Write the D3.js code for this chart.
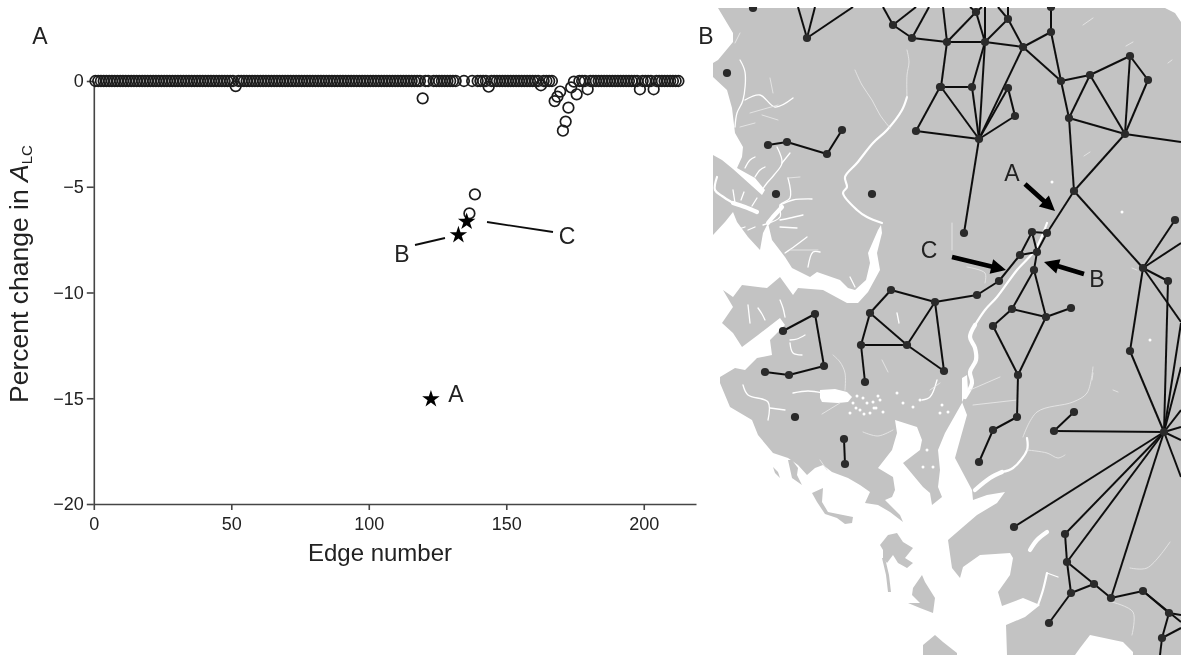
<!DOCTYPE html>
<html><head><meta charset="utf-8">
<style>html,body{margin:0;padding:0;background:#fff}svg{display:block}text{font-family:"Liberation Sans",Arial,sans-serif;fill:#222}</style>
<script src="https://cdn.jsdelivr.net/npm/d3@7/dist/d3.min.js"></script>
</head><body><svg id="c" width="1181" height="655"></svg>
<script>
// ---------- Panel A data ----------
const xTicks = [0, 50, 100, 150, 200];
const yTicks = [0, -5, -10, -15, -20];
const openEdges = [
  1,2,3,4,5,6,7,8,9,10,11,12,13,14,15,16,17,18,19,20,21,22,23,24,25,26,27,28,29,30,
  31,32,33,34,35,36,37,38,39,40,41,42,43,44,45,46,47,48,49,50,51,52,53,54,55,56,57,58,59,60,
  61,62,63,64,65,66,67,68,69,70,71,72,73,74,75,76,77,78,79,80,81,82,83,84,85,86,87,88,89,90,
  91,92,93,94,95,96,97,98,99,100,101,102,103,104,105,106,107,108,109,110,111,112,113,114,115,116,117,118,119,120,
  121,122,124,125,126,127,128,129,130,131,132,135,137,138,139,140,
  141,142,143,144,145,146,147,148,149,150,151,152,153,154,155,156,157,158,159,160,161,162,163,164,165,166,167,168,169,170,
  171,172,173,174,175,176,177,178,179,180,181,182,183,184,185,186,187,188,189,190,191,192,193,194,195,196,197,198,199,200,
  201,202,203,204,205,206,207,208,209,210,211,212,213];
const droppedEdges = [52,120,137,139,144,163,168,169,170,171,172,173,174,175,176,180,199,204];
const droppedValues = [-0.24,-0.82,-6.26,-5.36,-0.27,-0.2,-0.95,-0.74,-0.5,-2.35,-1.92,-1.26,-0.3,-0.03,-0.63,-0.39,-0.39,-0.39];
const starEdges = [123,133,136];
const starValues = [-15.04,-7.28,-6.65];

// ---------- Panel B map data (map grid units) ----------
const landOutline = [[718,8],[1165,8],[1175,13],[1181,22],[1181,655],[1133,655],[1133,652],[1123,642],[1090,635],[1080,648],[1075,655],[1007,655],[1006,625],[1025,617],[1040,605],[1023,598],[1002,606],[998,592],[1010,575],[1013,558],[1010,553],[980,555],[963,567],[960,578],[952,568],[948,540],[963,527],[977,515],[997,503],[1005,492],[987,495],[973,500],[972,490],[955,458],[960,440],[967,415],[962,402],[968,390],[967,375],[962,378],[962,403],[945,433],[938,450],[940,470],[938,487],[942,497],[932,505],[930,493],[923,487],[903,463],[920,450],[922,440],[917,427],[895,420],[897,433],[892,450],[878,468],[893,477],[895,490],[892,497],[885,500],[900,515],[903,522],[890,512],[878,505],[865,503],[870,492],[860,485],[848,478],[832,472],[823,465],[815,468],[807,475],[798,465],[788,458],[773,453],[758,435],[752,420],[730,407],[720,383],[720,377],[735,368],[745,370],[757,358],[772,355],[770,340],[785,325],[780,318],[758,335],[742,347],[733,333],[722,323],[733,307],[723,290],[733,297],[742,285],[767,288],[780,277],[793,295],[798,288],[823,290],[847,303],[858,303],[868,292],[880,270],[877,253],[882,233],[881,225],[878,230],[868,253],[870,263],[866,280],[855,290],[848,288],[840,280],[817,272],[810,277],[792,268],[785,257],[772,240],[768,223],[763,233],[760,250],[748,237],[737,222],[733,212],[725,222],[713,235],[713,155],[722,160],[733,169],[762,195],[765,190],[755,178],[737,168],[742,157],[743,147],[735,133],[732,108],[727,90],[713,77],[713,63],[718,60],[733,42],[733,33]];
const islands = [
  [[812,493],[823,488],[822,502],[828,512],[853,517],[852,523],[845,524],[837,518],[825,514],[817,502]],
  [[788,460],[792,478],[802,485],[797,475],[798,468],[792,460]],
  [[880,545],[888,535],[897,533],[903,542],[913,548],[905,558],[913,563],[907,568],[898,563],[893,555],[887,563],[883,558],[883,550]],
  [[913,588],[922,575],[925,582],[935,598],[933,613],[920,608],[908,603],[920,603],[912,595]],
  [[923,645],[935,635],[943,642],[957,653],[957,655],[923,655]],
  [[773,467],[778,472],[780,478],[775,473]],
  [[882,558],[885,558],[889,575],[891,592],[888,592],[886,575]]
];
const riversWide = [
  [[975,325],[970,337],[975,348],[976,360],[970,372],[972,383],[965,397]],
  [[1002,472],[990,478],[975,490]],
  [[733,203],[745,207],[757,212]],
  [[782,207],[772,218],[768,223]],
  [[1030,550],[1037,540],[1047,532]]
];
const riversMedium = [
  [[1047,223],[1035,250],[1017,270],[997,297],[985,310],[975,325]],
  [[1047,573],[1043,590],[1038,605]],
  [[1027,438],[1027,450],[1013,468],[1002,472]],
  [[882,223],[867,217],[857,210],[843,193],[847,187],[845,177],[857,163],[873,143],[887,130],[902,110],[907,97]],
  [[717,177],[715,190],[722,196],[733,203]]
];
const riversFine = [
  [[740,60],[745,72],[743,100],[737,113],[735,127]],
  [[745,100],[760,95],[775,107],[793,98]],
  [[777,147],[782,163],[774,175],[767,183],[762,190]],
  [[780,205],[793,200],[812,199]],
  [[788,178],[790,198],[780,205],[780,217],[763,225]],
  [[780,220],[790,218],[803,215]],[[780,227],[797,228]],
  [[785,253],[795,246],[807,237]],[[808,267],[813,252],[820,252]],
  [[850,277],[855,287]],[[733,190],[735,203]],
  [[745,168],[750,160],[755,157]],[[755,177],[760,170],[765,167]],[[782,163],[790,153]],
  [[743,385],[748,395],[768,402],[768,420]],[[770,408],[785,410]],
  [[793,393],[808,391],[823,393]],
  [[780,300],[783,308],[785,317]],[[758,308],[762,314],[765,320]],[[748,305],[749,314],[750,323]],
  [[790,340],[797,339],[805,335]],[[790,343],[793,353],[802,355]],
  [[937,380],[930,397],[922,400]],[[1047,573],[1058,577]],
  [[897,313],[899,323]],[[741,200],[744,192]],[[752,206],[757,198]],[[733,218],[738,228],[745,227]],[[748,230],[755,227]]
];
const riversThin = [
  [[907,50],[909,62],[907,75],[907,97]],
  [[735,43],[740,33]],[[770,78],[773,93]],[[750,113],[778,105]],[[762,115],[778,120]],
  [[740,127],[755,123]],[[788,178],[800,177]],
  [[833,355],[840,362],[845,373],[845,390]],[[882,360],[888,372]],
  [[790,250],[818,250]],
  [[855,70],[862,85],[872,100],[880,115],[890,128]],
  [[952,223],[952,250]],[[967,267],[985,273],[985,283]],
  [[930,390],[940,383]],[[973,405],[1017,400]],[[970,390],[1000,377]],
  [[1023,437],[1037,412],[1073,402],[1087,393],[1093,367]],
  [[1027,450],[1047,453],[1058,458],[1065,455]],
  [[1130,568],[1147,568],[1170,542]],[[1112,602],[1133,612],[1132,635]],
  [[863,432],[878,436],[893,430]],
  [[840,403],[822,414]],[[820,460],[827,470]],
  [[1093,18],[1083,25]],[[1133,42],[1126,46]],[[1172,60],[1168,63]],[[1090,152],[1084,156]],[[1132,268],[1137,270]],[[1093,373],[1092,380]],[[1113,390],[1118,392]]
];
const marshBlob = [[820,390],[835,389],[847,392],[852,397],[848,402],[838,403],[822,402],[820,398]];
const marshSpecks = [[853,403],[860,410],[867,403],[873,402],[880,400],[850,413],[870,413],[883,412],[863,398],[856,408],[864,414],[874,408],[878,396],[897,393],[903,403],[913,407],[920,400],[927,450],[923,467],[933,467],[857,396],[876,408],[942,405],[948,412],[940,413],[1122,212],[1150,340],[1052,182]];
const towns = [[753,8],[807,38],[893,25],[912,38],[727,73],[768,145],[787,142],[827,154],[842,130],[776,194],[872,194],[916,131],[940,87],[976,12],[1008,19],[1051,32],[1051,7],[947,42],[985,42],[1023,47],[1061,81],[1090,75],[1130,56],[1148,80],[1069,118],[1125,134],[1074,191],[941,87],[972,87],[1008,88],[1015,116],[979,139],[964,233],[1032,232],[1047,233],[1020,255],[1037,252],[1034,270],[999,281],[977,295],[935,302],[1012,309],[1046,317],[1071,308],[993,326],[1018,375],[1017,417],[993,430],[944,371],[1143,268],[1168,281],[1130,351],[1164,432],[1074,412],[1054,431],[1175,220],[979,462],[1014,527],[1065,534],[1067,562],[1071,593],[1094,584],[1111,598],[1143,591],[1049,623],[1169,613],[1162,638],[815,314],[783,331],[824,366],[789,375],[765,372],[795,417],[844,439],[845,464],[891,290],[870,313],[861,345],[907,345],[865,382]];
const links = [
  [807,38,798,7],[807,38,815,7],[807,38,853,7],[893,25,883,7],[893,25,916,7],[893,25,912,38],[912,38,929,7],[912,38,947,42],
  [768,145,787,142],[787,142,827,154],[827,154,842,130],[916,131,940,87],[916,131,979,139],
  [947,42,943,7],[947,42,976,12],[976,12,970,7],[976,12,982,7],[976,12,985,42],[985,42,985,7],[1008,19,998,7],[1008,19,1008,7],[1008,19,985,42],[1008,19,1023,47],
  [947,42,985,42],[985,42,1023,47],[1023,47,1051,32],[1051,32,1051,7],[1023,47,1061,81],[1051,32,1061,81],[1061,81,1090,75],[1090,75,1130,56],[1130,56,1148,80],[1130,56,1125,134],[1148,80,1125,134],[1090,75,1069,118],[1090,75,1125,134],[1061,81,1069,118],[1069,118,1125,134],[1069,118,1074,191],[1125,134,1074,191],[1125,134,1181,142],
  [1074,191,1047,233],[1074,191,1143,268],[947,42,941,87],[941,87,972,87],[972,87,985,42],[985,42,979,139],[941,87,979,139],[972,87,979,139],[1023,47,979,139],[1008,88,979,139],[1008,88,1015,116],[1015,116,979,139],[979,139,964,233],
  [1032,232,1047,233],[1032,232,1037,252],[1047,233,1037,252],[1032,232,1020,255],[1020,255,1037,252],[1037,252,1034,270],[1020,255,999,281],[999,281,977,295],[977,295,935,302],[1034,270,1012,309],[1034,270,1046,317],[1012,309,1046,317],[1046,317,1071,308],[1012,309,993,326],[993,326,1018,375],[1046,317,1018,375],[1018,375,1017,417],[1017,417,993,430],[993,430,979,462],[935,302,944,371],
  [1143,268,1168,281],[1143,268,1175,220],[1143,268,1181,243],[1143,268,1181,322],[1168,281,1164,432],[1143,268,1130,351],[1130,351,1164,432],[1054,431,1074,412],[1054,431,1164,432],
  [1164,432,1181,323],[1164,432,1181,367],[1164,432,1181,410],[1164,432,1181,427],[1164,432,1181,440],[1164,432,1181,477],
  [1164,432,1014,527],[1164,432,1065,534],[1164,432,1067,562],[1164,432,1111,598],
  [1065,534,1067,562],[1067,562,1071,593],[1067,562,1094,584],[1094,584,1111,598],[1071,593,1094,584],[1071,593,1049,623],[1111,598,1143,591],[1143,591,1169,613],[1143,591,1181,622],[1169,613,1162,638],[1162,638,1160,655],[1162,638,1181,628],[1169,613,1181,615],
  [783,331,815,314],[815,314,824,366],[824,366,789,375],[789,375,765,372],[844,439,845,464],[870,313,891,290],[891,290,935,302],[870,313,861,345],[870,313,907,345],[861,345,907,345],[907,345,935,302],[907,345,944,371],[861,345,865,382]
];
const mapArrows = [[1025,184,1055,211],[952,257,1006,270],[1084,274,1044,262]];
const mapLetters = [["A",1012,175],["C",929,252],["B",1097,281]];

// ---------- Panel A ----------
const svg = d3.select("#c");
const defs = svg.append("defs");
defs.append("filter").attr("id", "soft").attr("x", 0).attr("y", 0).attr("width", 1).attr("height", 1)
  .attr("filterUnits", "objectBoundingBox")
  .append("feGaussianBlur").attr("stdDeviation", 0.45);
defs.append("clipPath").attr("id", "mapClip").append("rect").attr("x", 700).attr("y", 7).attr("width", 481).attr("height", 648);
svg.append("rect").attr("width", 1181).attr("height", 655).attr("fill", "#fff");
const root = svg.append("g").attr("filter", "url(#soft)");
root.append("rect").attr("width", 1181).attr("height", 655).attr("fill", "#fff");

const minus = d => d < 0 ? "\u2212" + Math.abs(d) : String(d);
const x = d3.scaleLinear().domain([0, 219]).range([93.8, 696]);
const y = d3.scaleLinear().domain([0, -20]).range([81, 504]);
const ink = "#444";
const plot = root.append("g");
const gx = plot.append("g").attr("transform", `translate(0,${y(-20)})`)
  .call(d3.axisBottom(x).tickValues(xTicks).tickSize(6).tickFormat(minus).tickSizeOuter(0));
const gy = plot.append("g").attr("transform", `translate(${x(0)},0)`)
  .call(d3.axisLeft(y).tickValues(yTicks).tickSize(7).tickFormat(minus).tickSizeOuter(0));
[gx, gy].forEach(g => {
  g.selectAll("path,line").attr("stroke", ink).attr("stroke-width", 1.6);
  g.selectAll("text").attr("font-size", 18).attr("font-family", '"Liberation Sans",Arial,sans-serif').attr("fill", "#222");
});
gx.selectAll("text").attr("dy", "0.95em");
const xPos = e => x(e - 0.4);
const zeroEdges = openEdges.filter(e => !droppedEdges.includes(e));
const openPts = zeroEdges.map(e => [e, 0]).concat(droppedEdges.map((e, i) => [e, droppedValues[i]]));
plot.append("g").selectAll("circle").data(openPts).join("circle")
  .attr("cx", d => xPos(d[0])).attr("cy", d => y(d[1])).attr("r", 5.3)
  .attr("fill", "none").attr("stroke", "#1c1c1c").attr("stroke-width", 1.7);
const star = d3.symbol().type(d3.symbolStar).size(95);
plot.append("g").selectAll("path").data(starEdges).join("path")
  .attr("d", star).attr("fill", "#000")
  .attr("transform", (e, i) => `translate(${xPos(e)},${y(starValues[i])})`);

const notes = [["A", 123, -15.04, 456, 396], ["B", 133, -7.28, 402, 256], ["C", 136, -6.65, 567, 238]];
const noteG = plot.append("g");
noteG.selectAll("text").data(notes).join("text").text(d => d[0])
  .attr("x", d => d[3]).attr("y", d => d[4]).attr("text-anchor", "middle")
  .attr("dominant-baseline", "middle").attr("font-size", 23);
const leaders = [[415, 245, 445, 238], [487, 222, 553, 232]];
noteG.selectAll("line").data(leaders).join("line")
  .attr("x1", d => d[0]).attr("y1", d => d[1]).attr("x2", d => d[2]).attr("y2", d => d[3])
  .attr("stroke", "#111").attr("stroke-width", 1.8);

root.append("text").attr("x", 380).attr("y", 561).attr("text-anchor", "middle")
  .attr("font-size", 24).text("Edge number");
const yl = root.append("text").attr("transform", "translate(28,274) rotate(-90)")
  .attr("text-anchor", "middle").attr("font-size", 26.5);
yl.append("tspan").text("Percent change in ");
yl.append("tspan").attr("font-style", "italic").text("A");
yl.append("tspan").attr("font-size", 15).attr("dy", 4).text("LC");
root.append("text").attr("x", 40).attr("y", 44).attr("text-anchor", "middle").attr("font-size", 23).text("A");

// ---------- Panel B ----------
const mx = d3.scaleLinear().domain([700, 1181]).range([700, 1181]);
const my = d3.scaleLinear().domain([7, 655]).range([7, 655]);
const map = root.append("g").attr("clip-path", "url(#mapClip)");
const pline = d3.line().x(d => mx(d[0])).y(d => my(d[1]));
const pcurve = d3.line().x(d => mx(d[0])).y(d => my(d[1])).curve(d3.curveCatmullRom);
const land = "#c3c3c3";
map.append("path").attr("d", pline(landOutline) + "Z").attr("fill", land);
map.append("g").selectAll("path").data(islands).join("path").attr("d", d => pline(d) + "Z").attr("fill", land);
map.append("path").attr("d", pline(marshBlob) + "Z").attr("fill", "#fff");
[[riversWide, 4.2, "#fff"], [riversMedium, 2.2, "#fff"], [riversFine, 1.3, "#fff"], [riversThin, 0.9, "#e6e6e6"]].forEach(([set, w, c]) => {
  map.append("g").selectAll("path").data(set).join("path").attr("d", pcurve)
    .attr("fill", "none").attr("stroke", c).attr("stroke-width", w)
    .attr("stroke-linecap", "round").attr("stroke-linejoin", "round");
});
map.append("g").selectAll("circle").data(marshSpecks).join("circle")
  .attr("cx", d => mx(d[0])).attr("cy", d => my(d[1])).attr("r", 1.5).attr("fill", "#fff");
map.append("g").selectAll("line").data(links).join("line")
  .attr("x1", d => mx(d[0])).attr("y1", d => my(d[1])).attr("x2", d => mx(d[2])).attr("y2", d => my(d[3]))
  .attr("stroke", "#111").attr("stroke-width", 2);
map.append("g").selectAll("circle").data(towns).join("circle")
  .attr("cx", d => mx(d[0])).attr("cy", d => my(d[1])).attr("r", 4.1).attr("fill", "#2a2a2a");

// arrows built from their start and end points
const arrowG = root.append("g");
arrowG.selectAll("path").data(mapArrows).join("path").attr("fill", "#000").attr("d", d => {
  const [x0, y0, x1, y1] = [mx(d[0]), my(d[1]), mx(d[2]), my(d[3])];
  const L = Math.hypot(x1 - x0, y1 - y0), ux = (x1 - x0) / L, uy = (y1 - y0) / L, nx = -uy, ny = ux;
  const hl = 15, sw = 2.4, hw = 7.5, bx = x1 - ux * hl, by = y1 - uy * hl;
  const pts = [[x0 + nx * sw, y0 + ny * sw], [bx + nx * sw, by + ny * sw], [bx + nx * hw, by + ny * hw], [x1, y1],
    [bx - nx * hw, by - ny * hw], [bx - nx * sw, by - ny * sw], [x0 - nx * sw, y0 - ny * sw]];
  return d3.line()(pts) + "Z";
});
arrowG.selectAll("text").data(mapLetters).join("text").text(d => d[0])
  .attr("x", d => mx(d[1])).attr("y", d => my(d[2])).attr("text-anchor", "middle")
  .attr("dominant-baseline", "middle").attr("font-size", 23);
root.append("text").attr("x", 706).attr("y", 44).attr("text-anchor", "middle").attr("font-size", 23).text("B");
</script></body></html>
